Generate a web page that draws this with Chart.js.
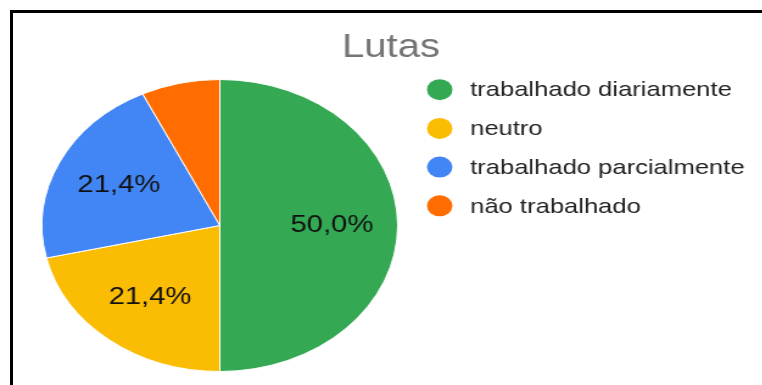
<!DOCTYPE html>
<html>
<head>
<meta charset="utf-8">
<script src="https://cdn.jsdelivr.net/npm/chart.js@4.4.1/dist/chart.umd.min.js"></script>
<style>
  html, body { margin: 0; padding: 0; background: #fff; overflow: hidden; }
  #frame {
    position: absolute; left: 10px; top: 10px; width: 800px; height: 400px;
    border-left: 3px solid #000; border-top: 3px solid #000;
  }
  #wrap {
    position: absolute; left: 0; top: 0; width: 626px; height: 385px;
    transform: scaleX(1.218); transform-origin: 0 0;
  }
</style>
</head>
<body>
<div id="frame"></div>
<div id="wrap"><canvas id="grafico" width="626" height="385"></canvas></div>
<script>
const titulo = "Lutas";
const categorias = ["trabalhado diariamente", "neutro", "trabalhado parcialmente", "não trabalhado"];
const respostas = [7, 3, 3, 1];
const cores = ["#34A853", "#FBBC04", "#4285F4", "#FF6D01"];

const FONTE = "Arial, 'Liberation Sans', sans-serif";

// titulo, legenda e porcentagens desenhados a mao por cima do grafico
const extras = {
  id: "extras",
  afterDraw(chart) {
    const ctx = chart.ctx;
    ctx.save();

    ctx.fillStyle = "#757575";
    ctx.font = "33px " + FONTE;
    ctx.textAlign = "center";
    ctx.textBaseline = "alphabetic";
    ctx.fillText(titulo, 321, 56.5);

    const total = respostas.reduce((a, b) => a + b, 0);
    const arcs = chart.getDatasetMeta(0).data;
    ctx.fillStyle = "#111";
    ctx.font = "24px " + FONTE;
    ctx.textBaseline = "middle";
    arcs.forEach((arc, i) => {
      const pct = respostas[i] / total * 100;
      if (pct < 10) return;
      const p = arc.getProps(["x", "y", "startAngle", "endAngle", "outerRadius"], true);
      const meio = (p.startAngle + p.endAngle) / 2;
      const d = p.outerRadius * 0.63;
      ctx.fillText(pct.toFixed(1).replace(".", ",") + "%", p.x + Math.cos(meio) * d, p.y + Math.sin(meio) * d);
    });

    ctx.textAlign = "left";
    ctx.font = "21px " + FONTE;
    categorias.forEach((nome, i) => {
      const y = 89.7 + i * 38.7;
      ctx.fillStyle = cores[i];
      ctx.beginPath();
      ctx.arc(361, y, 10.5, 0, Math.PI * 2);
      ctx.fill();
      ctx.fillStyle = "#222";
      ctx.fillText(nome, 386, y + 1);
    });

    ctx.restore();
  }
};

new Chart(document.getElementById("grafico"), {
  type: "pie",
  data: {
    labels: categorias,
    datasets: [{
      data: respostas,
      backgroundColor: cores,
      borderColor: "#fff",
      borderWidth: 1
    }]
  },
  options: {
    responsive: false,
    animation: false,
    events: [],
    layout: { padding: { left: 34, top: 79, right: 299, bottom: 13 } },
    plugins: {
      legend: { display: false },
      title: { display: false },
      tooltip: { enabled: false }
    }
  },
  plugins: [extras]
});
</script>
</body>
</html>
